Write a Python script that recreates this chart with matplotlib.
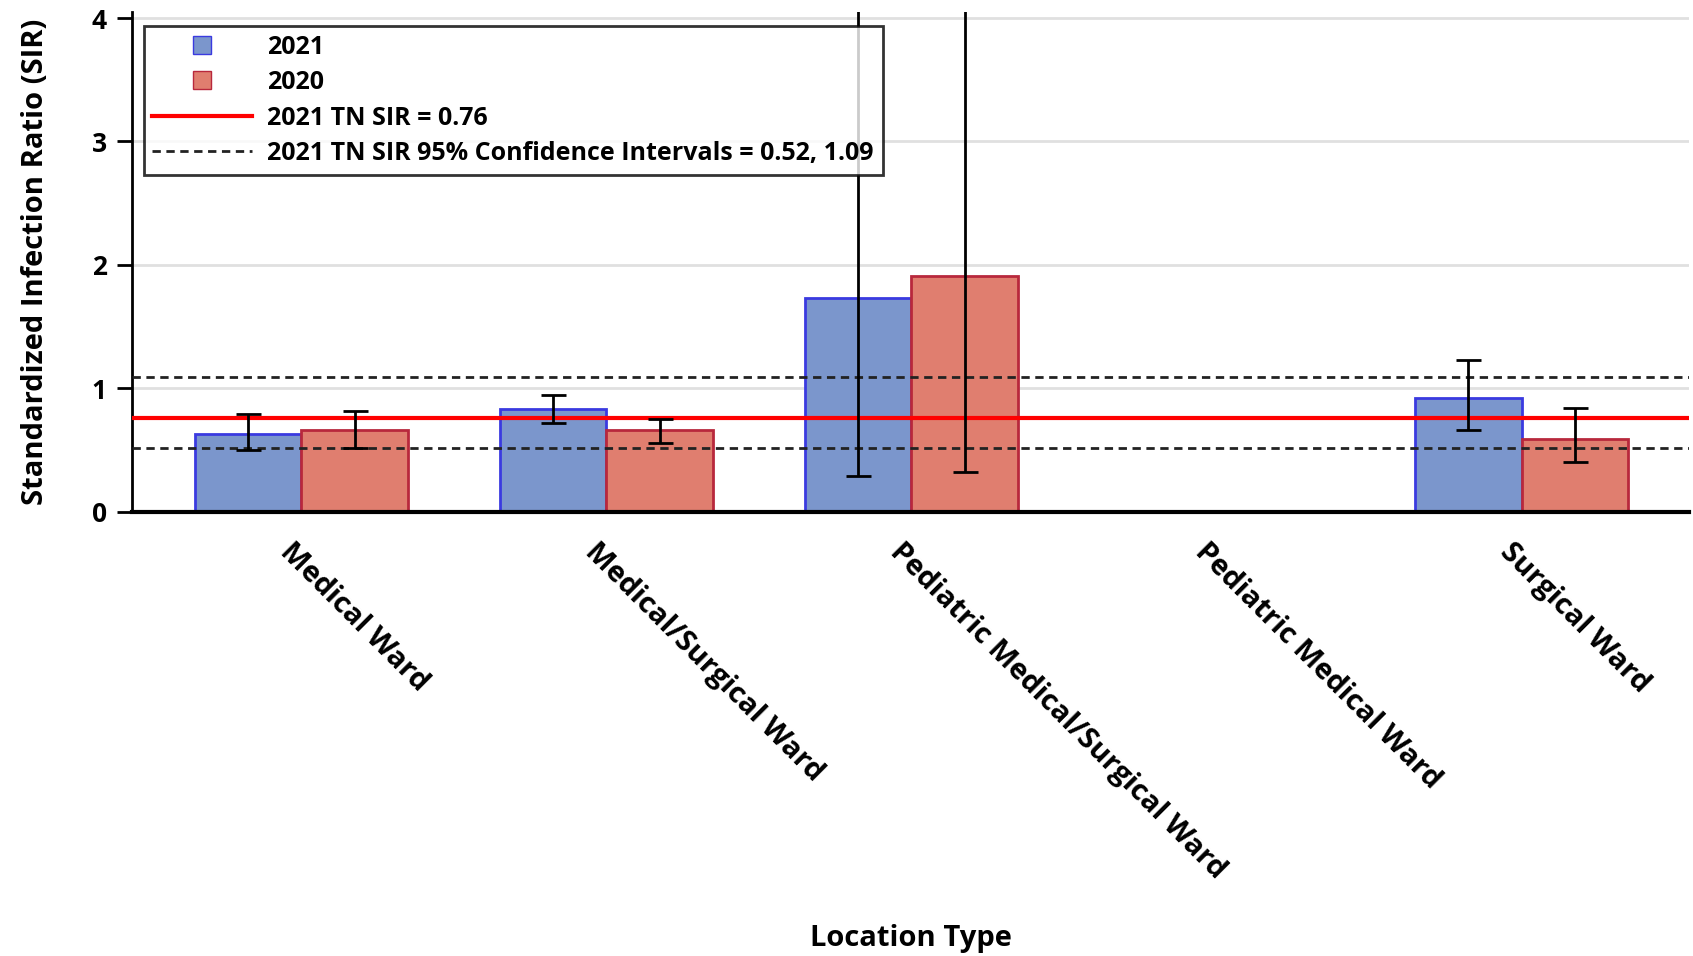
import numpy as np
import matplotlib
matplotlib.use("Agg")
import matplotlib.pyplot as plt
import matplotlib.transforms as mtransforms
from matplotlib.lines import Line2D

plt.rcParams['font.family'] = ['Open Sans', 'DejaVu Sans']
plt.rcParams['font.weight'] = 'bold'

locations = ["Medical Ward", "Medical/Surgical Ward", "Pediatric Medical/Surgical Ward",
             "Pediatric Medical Ward", "Surgical Ward"]
sir_2021 = [0.63, 0.83, 1.73, np.nan, 0.92]
sir_2020 = [0.66, 0.66, 1.91, np.nan, 0.59]
low_2021 = [0.50, 0.72, 0.29, np.nan, 0.66]
high_2021 = [0.79, 0.95, 9.0, np.nan, 1.23]
low_2020 = [0.52, 0.56, 0.32, np.nan, 0.40]
high_2020 = [0.82, 0.75, 11.0, np.nan, 0.84]
tn_sir = 0.76
tn_ci = [0.52, 1.09]

blue_fill = "#7b96cc"
blue_edge = "#3a3ae0"
red_fill = "#e07e6f"
red_edge = "#b8283c"

x = np.arange(len(locations))
w = 0.35

fig = plt.figure(figsize=(16.93, 9.56), dpi=100)
ax = fig.add_axes([0.0778, 0.4646, 0.920, 0.523])

ax.bar(x - w / 2, sir_2021, w, color=blue_fill, edgecolor=blue_edge, linewidth=2, zorder=2)
ax.bar(x + w / 2, sir_2020, w, color=red_fill, edgecolor=red_edge, linewidth=2, zorder=2)

s21 = np.array(sir_2021)
s20 = np.array(sir_2020)
err21 = [s21 - np.array(low_2021), np.array(high_2021) - s21]
err20 = [s20 - np.array(low_2020), np.array(high_2020) - s20]
ax.errorbar(x - w / 2, s21, yerr=err21, fmt="none", ecolor="black", elinewidth=2,
            capsize=9, capthick=2, zorder=5)
ax.errorbar(x + w / 2, s20, yerr=err20, fmt="none", ecolor="black", elinewidth=2,
            capsize=9, capthick=2, zorder=5)

ax.axhline(tn_sir, color="red", linewidth=3, zorder=4)
for v in tn_ci:
    ax.axhline(v, color="#222222", linewidth=2, linestyle=(0, (3, 2)), zorder=4)

ax.set_xlim(-0.556, 4.55)
ax.set_ylim(0, 4.05)
ax.set_yticks([0, 1, 2, 3, 4])
ax.yaxis.grid(True, color="#e0e0e0", linewidth=2)
ax.set_axisbelow(True)
for s in ["top", "right"]:
    ax.spines[s].set_visible(False)
ax.spines["bottom"].set_linewidth(3)
ax.spines["left"].set_linewidth(2)
ax.tick_params(axis="y", labelsize=19, width=2, length=11, pad=7)
ax.tick_params(axis="x", length=0, pad=16)
ax.set_xticks(x)
ax.set_xticklabels(locations, rotation=-45, ha="left", va="top", rotation_mode="anchor",
                   fontsize=21, fontweight="bold")
shift = mtransforms.ScaledTranslation(-0.07, -0.03, fig.dpi_scale_trans)
for lab in ax.get_xticklabels():
    lab.set_transform(lab.get_transform() + shift)
ax.set_ylabel("Standardized Infection Ratio (SIR)", fontsize=21, fontweight="bold", labelpad=30)
ax.set_xlabel("Location Type", fontsize=21, fontweight="bold")
ax.xaxis.set_label_coords(0.5, -0.825)

handles = [
    Line2D([], [], linestyle="none", marker="s", markersize=13, markerfacecolor=blue_fill,
           markeredgecolor=blue_edge),
    Line2D([], [], linestyle="none", marker="s", markersize=13, markerfacecolor=red_fill,
           markeredgecolor=red_edge),
    Line2D([], [], color="red", linewidth=3),
    Line2D([], [], color="#222222", linewidth=2, linestyle=(0, (3, 2))),
]
labels = ["2021", "2020", "2021 TN SIR = 0.76",
          "2021 TN SIR 95% Confidence Intervals = 0.52, 1.09"]
leg = ax.legend(handles, labels, loc="upper left", bbox_to_anchor=(0.0076, 0.972),
                borderaxespad=0, fontsize=18, frameon=True, fancybox=False, edgecolor="black",
                handlelength=4.0, labelspacing=0.42, borderpad=0.35, handletextpad=0.6)
leg.get_frame().set_linewidth(2)
leg.set_zorder(10)

fig.savefig("out.png", dpi=100)
